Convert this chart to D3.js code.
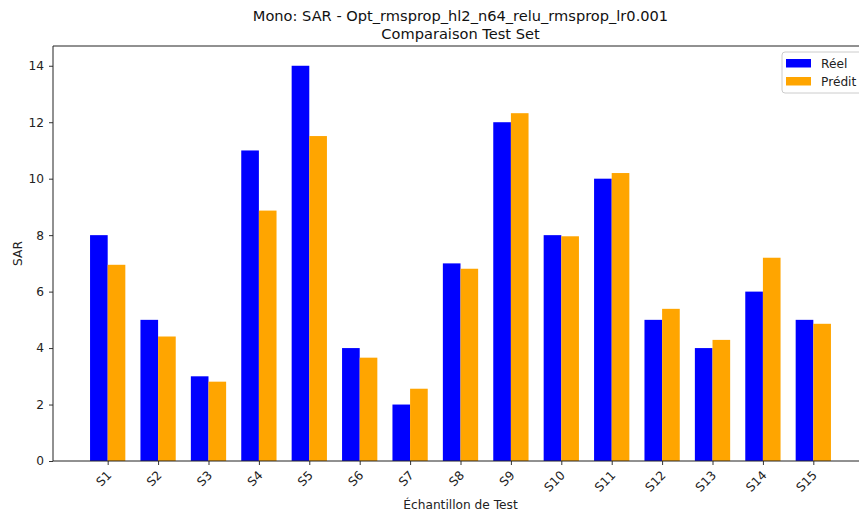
<!DOCTYPE html>
<html>
<head>
<meta charset="utf-8">
<script src="https://cdn.jsdelivr.net/npm/d3@7"></script>
<style>
  body { margin: 0; background: #fff; }
  svg { font-family: "DejaVu Sans", sans-serif; }
</style>
</head>
<body>
<svg id="chart"></svg>
<script>
// data
const samples = ["S1","S2","S3","S4","S5","S6","S7","S8","S9","S10","S11","S12","S13","S14","S15"];
const reel = [8, 5, 3, 11, 14, 4, 2, 7, 12, 8, 10, 5, 4, 6, 5];
const predit = [6.95, 4.41, 2.81, 8.87, 11.51, 3.66, 2.56, 6.81, 12.32, 7.96, 10.2, 5.39, 4.29, 7.2, 4.86];
const yTicks = [0, 2, 4, 6, 8, 10, 12, 14];

const W = 859, H = 512;
const plotL = 53, plotR = 868, plotT = 46, plotB = 461;
const barW = 0.35;

const svg = d3.select("#chart").attr("width", W).attr("height", H);

// matplotlib-like limits: bars span [-0.35, n-1+0.35], plus 5% margin
const span = (samples.length - 1) + 2 * barW;
const x = d3.scaleLinear()
    .domain([-barW - 0.05 * span, samples.length - 1 + barW + 0.05 * span])
    .range([plotL, plotR]);
const y = d3.scaleLinear().domain([0, 14.7]).range([plotB, plotT]);

const fs = 12.2;

// bars
const g = svg.append("g");
g.selectAll("rect.reel")
    .data(reel)
    .enter().append("rect")
    .attr("x", (d, i) => x(i - barW))
    .attr("y", d => y(d))
    .attr("width", x(barW) - x(0))
    .attr("height", d => y(0) - y(d))
    .attr("fill", "blue");

g.selectAll("rect.predit")
    .data(predit)
    .enter().append("rect")
    .attr("x", (d, i) => x(i))
    .attr("y", d => y(d))
    .attr("width", x(barW) - x(0))
    .attr("height", d => y(0) - y(d))
    .attr("fill", "orange");

// y axis
const yAxis = svg.append("g")
    .attr("transform", `translate(${plotL},0)`)
    .call(d3.axisLeft(y).tickValues(yTicks).tickSize(4).tickPadding(5).tickSizeOuter(0));
yAxis.select(".domain").remove();
yAxis.selectAll("text").attr("font-size", fs).attr("fill", "#222").style("font-family", "DejaVu Sans");
yAxis.selectAll("line").attr("stroke", "#333");

// x axis
const xAxis = svg.append("g")
    .attr("transform", `translate(0,${plotB})`)
    .call(d3.axisBottom(x).tickValues(d3.range(samples.length)).tickFormat(i => samples[i]).tickSize(4).tickSizeOuter(0));
xAxis.select(".domain").remove();
xAxis.selectAll("line").attr("stroke", "#333");
xAxis.selectAll("text")
    .attr("font-size", fs)
    .attr("fill", "#222")
    .style("font-family", "DejaVu Sans")
    .attr("text-anchor", "end")
    .attr("dy", null)
    .attr("y", 0)
    .attr("transform", "translate(4,15) rotate(-45)");

// spines
svg.append("line").attr("x1", plotL).attr("x2", plotL).attr("y1", plotT).attr("y2", plotB).attr("stroke", "#222").attr("stroke-width", 1);
svg.append("line").attr("x1", plotL).attr("x2", plotR).attr("y1", plotB).attr("y2", plotB).attr("stroke", "#222").attr("stroke-width", 1);
svg.append("line").attr("x1", plotL).attr("x2", plotR).attr("y1", plotT).attr("y2", plotT).attr("stroke", "#222").attr("stroke-width", 1);
svg.append("line").attr("x1", plotR).attr("x2", plotR).attr("y1", plotT).attr("y2", plotB).attr("stroke", "#222").attr("stroke-width", 1);

// titles
const cx = (plotL + plotR) / 2;
const tfs = 14.6;
svg.append("text").attr("x", cx).attr("y", 21).attr("text-anchor", "middle")
    .attr("font-size", tfs).attr("fill", "#111").text("Mono: SAR - Opt_rmsprop_hl2_n64_relu_rmsprop_lr0.001");
svg.append("text").attr("x", cx).attr("y", 39).attr("text-anchor", "middle")
    .attr("font-size", tfs).attr("fill", "#111").text("Comparaison Test Set");

svg.append("text").attr("x", cx).attr("y", 509).attr("text-anchor", "middle")
    .attr("font-size", fs).attr("fill", "#222").text("Échantillon de Test");
svg.append("text").attr("transform", `translate(22,${(plotT + plotB) / 2}) rotate(-90)`)
    .attr("text-anchor", "middle").attr("font-size", fs).attr("fill", "#222").text("SAR");

// legend
const legend = svg.append("g").attr("transform", "translate(782,52)");
legend.append("rect").attr("width", 86).attr("height", 41).attr("rx", 3)
    .attr("fill", "#fff").attr("fill-opacity", 0.8).attr("stroke", "#ccc");
const items = [{label: "Réel", color: "blue"}, {label: "Prédit", color: "orange"}];
items.forEach((it, i) => {
    legend.append("rect").attr("x", 4).attr("y", 7 + i * 18).attr("width", 25).attr("height", 8.5).attr("fill", it.color);
    legend.append("text").attr("x", 39).attr("y", 15.5 + i * 18).attr("font-size", fs).attr("fill", "#222").text(it.label);
});
</script>
</body>
</html>
